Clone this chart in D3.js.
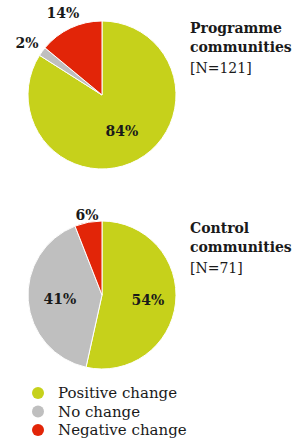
<!DOCTYPE html>
<html>
<head>
<meta charset="utf-8">
<script src="https://cdn.jsdelivr.net/npm/d3@7"></script>
<style>
  body { margin: 0; background: #fff; }
  text { font-family: "DejaVu Serif", serif; fill: #1a1a1a; }
</style>
</head>
<body>
<svg id="chart" width="304" height="444"></svg>
<script>
// categories + values
var categories = ["Positive change", "No change", "Negative change"];
var programmeValues = [84, 2, 14];
var controlValues = [54, 41, 6];
var colors = ["#c6d11b", "#bfbfbf", "#e22508"];

var svg = d3.select("#chart");
var color = d3.scaleOrdinal().domain(categories).range(colors);

var r = 74;
var pie = d3.pie().value(function(d){return d.value}).sort(null);
var arc = d3.arc().innerRadius(0).outerRadius(r);

// labelPos = offsets from pie centre
function drawPie(values, cx, cy, titleLines, nText, labelPos){
    var data = categories.map(function(c, i){return {name: c, value: values[i]}});
    var g = svg.append("g").attr("transform", `translate(${cx},${cy})`);
    g.selectAll("path")
        .data(pie(data))
        .enter()
        .append("path")
        .attr("d", arc)
        .attr("fill", function(d){return color(d.data.name)})
        .attr("stroke", "#fff")
        .attr("stroke-width", 1);

    g.selectAll(".lbl")
        .data(pie(data))
        .enter()
        .append("text")
        .attr("class", "lbl")
        .attr("x", function(d, i){return labelPos[i][0]})
        .attr("y", function(d, i){return labelPos[i][1]})
        .attr("text-anchor", "middle")
        .style("font-size", "14px")
        .style("font-weight", "bold")
        .text(function(d){return d.data.value + "%"});

    var t = svg.append("text").attr("x", 190).attr("y", cy - 62);
    titleLines.forEach(function(l, i){
        t.append("tspan").attr("x", 190).attr("dy", i == 0 ? 0 : 19)
            .style("font-size", "14px").style("font-weight", "bold").text(l);
    });
    t.append("tspan").attr("x", 190).attr("dy", 21)
        .style("font-size", "14px").text(nText);
}

drawPie(programmeValues, 102, 95, ["Programme", "communities"], "[N=121]",
    [[20, 41], [-75, -47], [-39, -77]]);
drawPie(controlValues, 102, 295, ["Control", "communities"], "[N=71]",
    [[46, 10], [-42, 9], [-15, -75]]);

// legend
var legend = svg.append("g").attr("transform", "translate(38,393)");
legend.selectAll("circle")
    .data(categories)
    .enter()
    .append("circle")
    .attr("cx", 0)
    .attr("cy", function(d, i){return i * 18.5})
    .attr("r", 6)
    .attr("fill", function(d){return color(d)});
legend.selectAll("text")
    .data(categories)
    .enter()
    .append("text")
    .attr("x", 20)
    .attr("y", function(d, i){return i * 18.5 + 5})
    .style("font-size", "15px")
    .text(function(d){return d});
</script>
</body>
</html>
